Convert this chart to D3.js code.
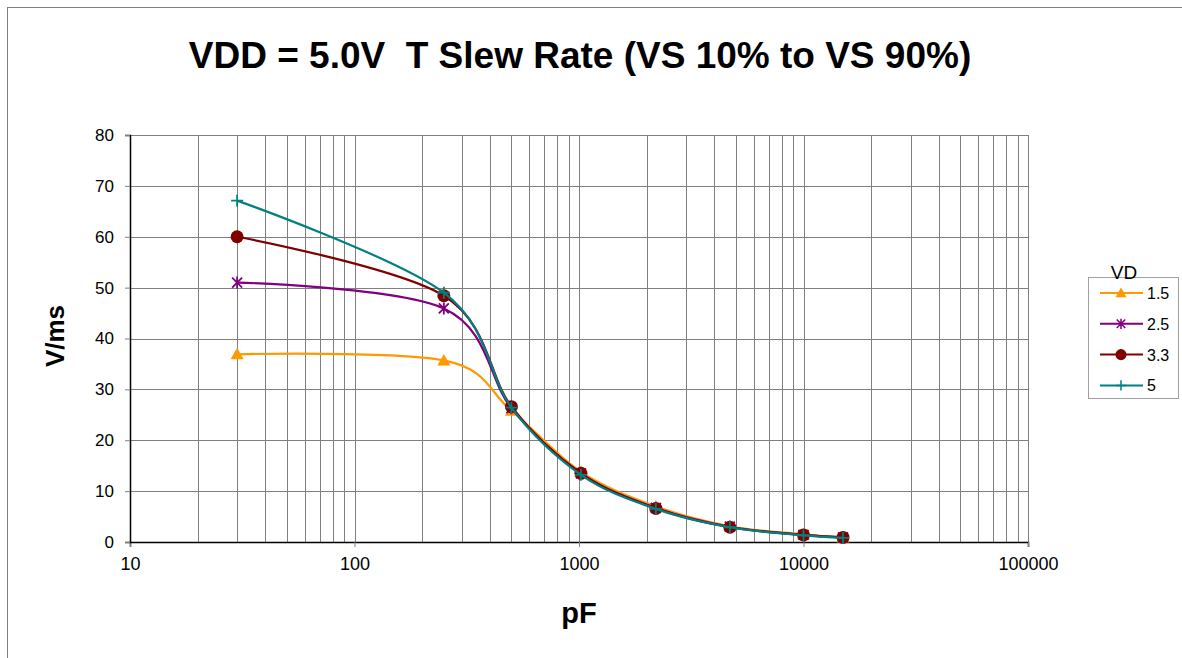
<!DOCTYPE html>
<html>
<head>
    <title>VDD = 5.0V T Slew Rate</title>
    <script src="https://d3js.org/d3.v7.min.js"></script>
    <style>
        body { margin: 0; background: #fff; }
        text { font-family: "Liberation Sans", Arial, sans-serif; }
    </style>
</head>
<body>
    <svg width="1182" height="658"></svg>
    <script>
        // capacitance values (pF)
        const capacitance = [30, 250, 500, 1020, 2200, 4700, 10000, 15000];
        const seriesNames = ["1.5", "2.5", "3.3", "5"];
        const vd15 = [36.9, 35.7, 25.8, 13.8, 7.0, 3.1, 1.5, 0.9];
        const vd25 = [51.0, 45.9, 26.3, 13.5, 6.7, 3.0, 1.4, 0.9];
        const vd33 = [60.0, 48.4, 26.6, 13.5, 6.6, 2.9, 1.4, 0.9];
        const vd50 = [67.1, 49.0, 26.4, 13.2, 6.5, 2.9, 1.3, 0.8];
        const xTicks = [10, 100, 1000, 10000, 100000];
        const yTicks = [0, 10, 20, 30, 40, 50, 60, 70, 80];

        const series = [
            {name: seriesNames[0], values: vd15, color: "#FF9900", marker: "triangle"},
            {name: seriesNames[1], values: vd25, color: "#800080", marker: "star"},
            {name: seriesNames[2], values: vd33, color: "#800000", marker: "circle"},
            {name: seriesNames[3], values: vd50, color: "#008080", marker: "plus"}
        ];

        const svg = d3.select("svg");
        const plot = {left: 130, right: 1028, top: 135, bottom: 542};

        const x = d3.scaleLog().domain([10, 100000]).range([plot.left, plot.right]);
        const y = d3.scaleLinear().domain([0, 80]).range([plot.bottom, plot.top]);

        // outer frame
        svg.append("rect")
            .attr("x", 7.5).attr("y", 7.5)
            .attr("width", 1200).attr("height", 700)
            .attr("fill", "none").attr("stroke", "#808080");

        // grid
        const minor = [];
        for (let d = 10; d < 100000; d *= 10) {
            for (let k = 1; k <= 9; k++) minor.push(d * k);
        }
        minor.push(100000);
        svg.append("g").selectAll("line").data(minor).enter().append("line")
            .attr("x1", d => Math.round(x(d)) + 0.5).attr("x2", d => Math.round(x(d)) + 0.5)
            .attr("y1", plot.top).attr("y2", plot.bottom)
            .attr("stroke", "#808080").attr("stroke-width", 1);
        svg.append("g").selectAll("line").data(yTicks).enter().append("line")
            .attr("x1", plot.left).attr("x2", plot.right)
            .attr("y1", d => Math.round(y(d)) + 0.5).attr("y2", d => Math.round(y(d)) + 0.5)
            .attr("stroke", "#808080").attr("stroke-width", 1);

        // axes
        const xAxis = svg.append("g")
            .attr("transform", `translate(0,${plot.bottom})`)
            .call(d3.axisBottom(x).tickValues(xTicks).tickFormat(d3.format("d")).tickSize(5).tickPadding(10));
        const yAxis = svg.append("g")
            .attr("transform", `translate(${plot.left},0)`)
            .call(d3.axisLeft(y).tickValues(yTicks).tickSize(5).tickPadding(11));
        [xAxis, yAxis].forEach(a => {
            a.select(".domain").attr("stroke", "#000").attr("stroke-width", 1.5);
            a.selectAll(".tick line").attr("stroke", "#808080");
            a.selectAll(".tick text").attr("fill", "#000")
                .attr("font-family", "Liberation Sans, Arial, sans-serif");
        });
        xAxis.selectAll(".tick text").attr("font-size", 18);
        yAxis.selectAll(".tick text").attr("font-size", 17);

        // lines
        const line = d3.line()
            .x((d, i) => x(capacitance[i]))
            .y(d => y(d))
            .curve(d3.curveCardinal.tension(0));

        function drawMarker(g, type, color) {
            if (type === "triangle") {
                g.append("path").attr("d", "M0,-6.5L6.5,5L-6.5,5Z").attr("fill", color);
            } else if (type === "circle") {
                g.append("circle").attr("r", 6.5).attr("fill", color);
            } else if (type === "star") {
                g.append("path").attr("d", "M-5,-5L5,5M-5,5L5,-5M0,-6L0,6")
                    .attr("stroke", color).attr("stroke-width", 1.8).attr("fill", "none");
            } else {
                g.append("path").attr("d", "M-6,0L6,0M0,-6L0,6")
                    .attr("stroke", color).attr("stroke-width", 1.8).attr("fill", "none");
            }
        }

        series.forEach(s => {
            svg.append("path")
                .datum(s.values)
                .attr("d", line)
                .attr("fill", "none")
                .attr("stroke", s.color)
                .attr("stroke-width", 2.2);
            svg.append("g").selectAll("g").data(s.values).enter().append("g")
                .attr("transform", (d, i) => `translate(${x(capacitance[i])},${y(d)})`)
                .each(function() { drawMarker(d3.select(this), s.marker, s.color); });
        });

        // title and axis labels
        svg.append("text")
            .attr("x", 580).attr("y", 68)
            .attr("text-anchor", "middle")
            .attr("font-size", 37).attr("font-weight", "bold")
            .attr("xml:space", "preserve")
            .text("VDD = 5.0V  T Slew Rate (VS 10% to VS 90%)");
        svg.append("text")
            .attr("x", 579).attr("y", 623)
            .attr("text-anchor", "middle")
            .attr("font-size", 29).attr("font-weight", "bold")
            .text("pF");
        svg.append("text")
            .attr("transform", "translate(64,336) rotate(-90)")
            .attr("text-anchor", "middle")
            .attr("font-size", 26).attr("font-weight", "bold")
            .text("V/ms");

        // legend
        const legend = svg.append("g");
        legend.append("rect")
            .attr("x", 1088.5).attr("y", 277.5)
            .attr("width", 90).attr("height", 121)
            .attr("fill", "#fff").attr("stroke", "#a0a0a0");
        legend.append("text")
            .attr("x", 1124).attr("y", 279)
            .attr("text-anchor", "middle")
            .attr("font-size", 19)
            .text("VD");
        const entry = legend.selectAll(".entry").data(series).enter().append("g")
            .attr("class", "entry")
            .attr("transform", (d, i) => `translate(0,${293 + i * 30.8})`);
        entry.append("line")
            .attr("x1", 1100).attr("x2", 1143)
            .attr("stroke", d => d.color).attr("stroke-width", 2);
        entry.each(function(d) {
            const g = d3.select(this).append("g").attr("transform", "translate(1121,0) scale(0.85)");
            drawMarker(g, d.marker, d.color);
        });
        entry.append("text")
            .attr("x", 1147).attr("y", 6)
            .attr("font-size", 16)
            .text(d => d.name);
    </script>
</body>
</html>
